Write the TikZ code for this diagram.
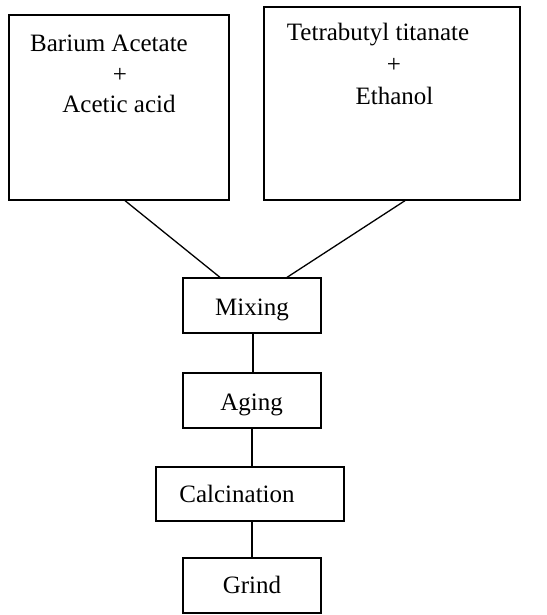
\documentclass[tikz,border=0pt]{standalone}
\usepackage{fontspec}
\setmainfont{Liberation Serif}
\usetikzlibrary{calc}
\begin{document}
\begin{tikzpicture}[x=1pt,y=-1pt,
  box/.style={draw,line width=1.3pt,rectangle,inner sep=0pt},
  lbl/.style={anchor=base,inner sep=0pt,font=\fontsize{25}{30}\selectfont},
  conn/.style={line width=1.3pt}]
\useasboundingbox (0,0) rectangle (546,615);
% boxes
\node[box,minimum width=220pt,minimum height=185pt] (b1) at (119,107.5) {};
\node[box,minimum width=256pt,minimum height=193pt] (b2) at (392,103.5) {};
\node[box,minimum width=138pt,minimum height=55pt] (mix) at (252,305.5) {};
\node[box,minimum width=138pt,minimum height=55pt] (age) at (252,400.5) {};
\node[box,minimum width=188pt,minimum height=54pt] (cal) at (250,494) {};
\node[box,minimum width=138pt,minimum height=55pt] (gri) at (252,585.5) {};
% texts
\node[lbl] (t1a) at (109,52) {Barium Acetate};
\node[lbl] (t1b) at (120,83) {+};
\node[lbl] (t1c) at (119,113) {Acetic acid};
\node[lbl] (t2a) at (378,41) {Tetrabutyl titanate};
\node[lbl] (t2b) at (394,73) {+};
\node[lbl] (t2c) at (394.5,105) {Ethanol};
\node[lbl] (tm) at (252,315) {Mixing};
\node[lbl] (ta) at (251.5,410) {Aging};
\node[lbl] (tc) at (237,502) {Calcination};
\node[lbl] (tg) at (252,593) {Grind};
% connectors
\draw[conn] ($(b1.south)+(6,0)$) -- ($(mix.north)+(-32,0)$);
\draw[conn] ($(b2.south)+(13,0)$) -- ($(mix.north)+(35,0)$);
\draw[conn] ($(mix.south)+(1,0)$) -- ($(age.north)+(1,0)$);
\draw[conn] (age.south) -- ($(cal.north)+(2,0)$);
\draw[conn] ($(cal.south)+(2,0)$) -- (gri.north);
\end{tikzpicture}
\end{document}
